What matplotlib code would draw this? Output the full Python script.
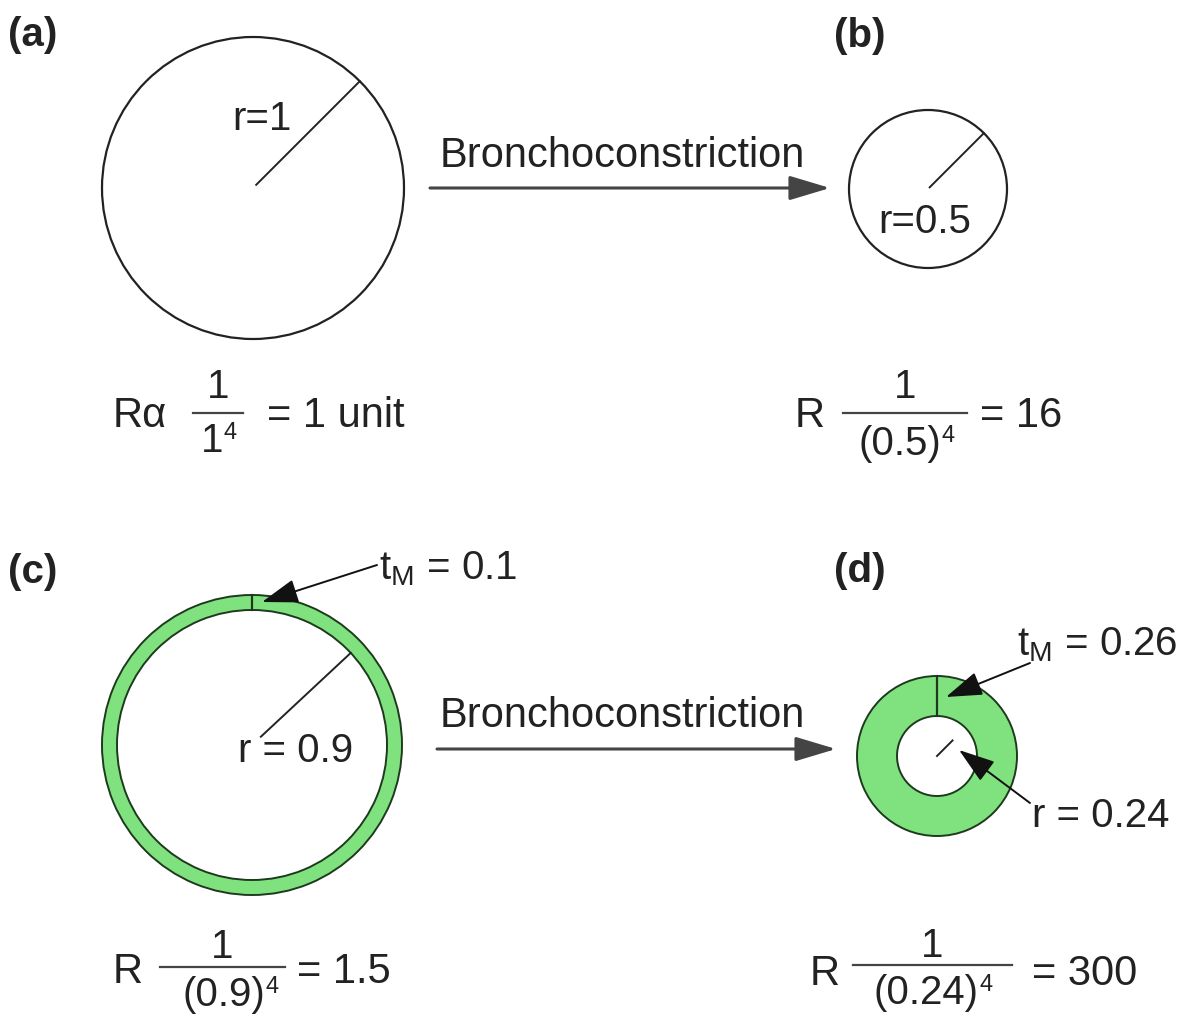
import numpy as np
import matplotlib
matplotlib.use("Agg")
import matplotlib.pyplot as plt
from matplotlib.patches import Circle, Wedge

plt.rcParams['font.family'] = ['Liberation Sans', 'DejaVu Sans']
plt.rcParams['mathtext.fontset'] = 'custom'
plt.rcParams['mathtext.rm'] = 'Liberation Sans'
plt.rcParams['mathtext.it'] = 'Liberation Sans'
plt.rcParams['mathtext.bf'] = 'Liberation Sans:bold'

# panel data (pixel space, y downwards)
panel_tags = ['(a)', '(b)', '(c)', '(d)']
tag_pos = [(8, 46), (834, 47), (8, 583), (834, 582)]

centers = [(253, 188), (928, 189), (252, 745), (937, 756)]
outer_r = [151, 79, 150, 80]
inner_r = [None, None, 135, 40]          # lumen radius for walled airways
radius_angle = [45, 45, 43, 45]
radius_span = [(0.03, 1.0), (0.03, 1.0), (0.09, 1.0), (0.0, 0.55)]

r_labels = ['r=1', 'r=0.5', 'r = 0.9', 'r = 0.24']
r_label_pos = [(232, 130), (878, 233), (238, 762), (1032, 827)]

tm_labels = [r'$\mathrm{t_M}$ = 0.1', r'$\mathrm{t_M}$ = 0.26']
tm_label_pos = [(379, 579), (1017, 655)]
tm_arrows = [((377, 565), (262, 602)), ((1030, 663), (946, 697))]
r_arrow_d = ((1030, 803), (959, 750))

# formulas: prefix, numerator, denominator (+ power), result
f_prefix = ['R\u03b1', 'R', 'R', 'R']
f_num = ['1', '1', '1', '1']
f_den = ['1', '(0.5)', '(0.9)', '(0.24)']
f_pow = ['4', '4', '4', '4']
f_result = ['= 1 unit', '= 16', '= 1.5', '= 300']
f_prefix_x = [113, 795, 113, 810]
f_base = [427, 427, 983, 985]
f_bar = [(193, 243, 413), (843, 967, 413), (160, 285, 967), (853, 1012, 965)]
f_num_base = [398, 398, 958, 957]
f_den_end = [223, 941, 265, 979]
f_den_base = [452, 455, 1006, 1004]
f_result_x = [267, 980, 297, 1032]

arrow_label = 'Bronchoconstriction'
arrows_h = [((430, 188), (830, 188)), ((437, 749), (836, 749))]
arrow_text_pos = [(440, 167), (440, 727)]

ring_green = '#80E27E'
ink = '#222222'

fig = plt.figure(figsize=(11.91, 10.17), dpi=100)
ax = fig.add_axes([0, 0, 1, 1])
ax.set_xlim(0, 1191)
ax.set_ylim(1017, 0)
ax.axis('off')

for i in range(4):
    cx, cy = centers[i]
    if inner_r[i] is None:
        ax.add_patch(Circle((cx, cy), outer_r[i], fill=False, ec=ink, lw=1.6))
        rr = outer_r[i]
    else:
        ax.add_patch(Wedge((cx, cy), outer_r[i], 0, 360, width=outer_r[i] - inner_r[i],
                           fc=ring_green, ec='#1e3a1e', lw=1.4))
        rr = inner_r[i]
        # wall thickness tick at top
        ax.plot([cx, cx], [cy - inner_r[i], cy - outer_r[i]], color='#1e3a1e', lw=1.6)
    a = np.deg2rad(radius_angle[i])
    t0, t1 = radius_span[i]
    ax.plot([cx + t0 * rr * np.cos(a), cx + t1 * rr * np.cos(a)],
            [cy - t0 * rr * np.sin(a), cy - t1 * rr * np.sin(a)], color=ink, lw=1.4)
    ax.text(*r_label_pos[i], r_labels[i], fontsize=29, color=ink, ha='left', va='baseline')
    ax.text(*tag_pos[i], panel_tags[i], fontsize=29, fontweight='bold', color=ink,
            ha='left', va='baseline')

    # formula
    x0, x1, yb = f_bar[i]
    xm = (x0 + x1) / 2
    ax.text(f_prefix_x[i], f_base[i], f_prefix[i], fontsize=30, color=ink, ha='left', va='baseline')
    ax.plot([x0, x1], [yb, yb], color='#444444', lw=1.6)
    ax.text(xm, f_num_base[i], f_num[i], fontsize=29, color=ink, ha='center', va='baseline')
    ax.text(f_den_end[i], f_den_base[i], f_den[i], fontsize=29, color=ink, ha='right', va='baseline')
    ax.text(f_den_end[i] + 1, f_den_base[i] - 13, f_pow[i], fontsize=17, color=ink,
            ha='left', va='baseline')
    ax.text(f_result_x[i], f_base[i], f_result[i], fontsize=30, color=ink, ha='left', va='baseline')

for lab, pos in zip(tm_labels, tm_label_pos):
    ax.text(*pos, lab, fontsize=29, color=ink, ha='left', va='baseline')

for start, tip in tm_arrows + [r_arrow_d]:
    ax.annotate('', xy=tip, xytext=start,
                arrowprops=dict(arrowstyle='-|>,head_length=0.9,head_width=0.3', color='#111111',
                                lw=1.4, mutation_scale=25, shrinkA=0, shrinkB=0))

for (start, tip), tpos in zip(arrows_h, arrow_text_pos):
    ax.annotate('', xy=tip, xytext=start,
                arrowprops=dict(arrowstyle='-|>,head_length=1.0,head_width=0.3', color='#444444',
                                lw=2.2, mutation_scale=25, shrinkA=0, shrinkB=0))
    ax.text(*tpos, arrow_label, fontsize=30, color=ink, ha='left', va='baseline')

fig.savefig('out.png', dpi=100, facecolor='white')
